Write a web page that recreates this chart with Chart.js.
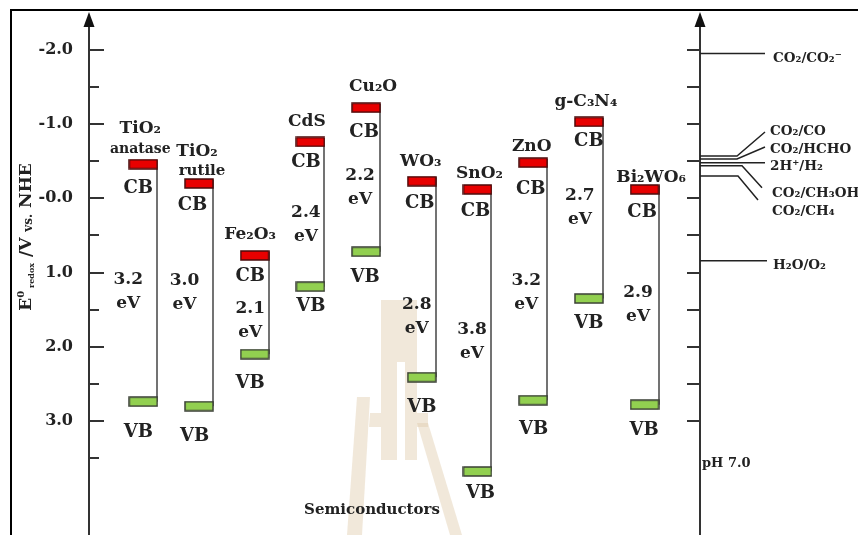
<!DOCTYPE html>
<html>
<head>
<meta charset="utf-8">
<script src="https://cdn.jsdelivr.net/npm/chart.js@4/dist/chart.umd.min.js"></script>
<style>
  html, body { margin: 0; padding: 0; background: #fff; }
  #wrap { width: 858px; height: 535px; position: relative; }
</style>
</head>
<body>
<div id="wrap"><canvas id="chart" width="858" height="535"></canvas></div>
<script>
// ---- data: band edges (V vs. NHE) of each photocatalyst ----
const semiconductors = ['TiO₂ anatase', 'TiO₂ rutile', 'Fe₂O₃', 'CdS', 'Cu₂O', 'WO₃', 'SnO₂', 'ZnO', 'g-C₃N₄', 'Bi₂WO₆'];
const nameLines = [['TiO₂', 'anatase'], ['TiO₂', 'rutile'], ['Fe₂O₃'], ['CdS'], ['Cu₂O'], ['WO₃'], ['SnO₂'], ['ZnO'], ['g-C₃N₄'], ['Bi₂WO₆']];
const cbEdge = [-0.46, -0.2, 0.77, -0.76, -1.22, -0.23, -0.12, -0.48, -1.03, -0.12];
const vbEdge = [2.74, 2.8, 2.1, 1.19, 0.72, 2.41, 3.68, 2.72, 1.35, 2.78];
const gapLabels = ['3.2', '3.0', '2.1', '2.4', '2.2', '2.8', '3.8', '3.2', '2.7', '2.9'];

// ---- data: redox couples at pH 7 ----
const redoxCouples = ['CO₂/CO₂⁻', 'CO₂/CO', 'CO₂/HCHO', '2H⁺/H₂', 'CO₂/CH₃OH', 'CO₂/CH₄', 'H₂O/O₂'];
const redoxPotentials = [-1.95, -0.57, -0.53, -0.48, -0.44, -0.30, 0.84];

// ---- axis ticks ----
const majorTicks = [-2, -1, 0, 1, 2, 3];
const tickLabels = ['-2.0', '-1.0', '-0.0', '1.0', '2.0', '3.0'];
const minorTicks = [-1.5, -0.5, 0.5, 1.5, 2.5, 3.5];
const rightTicks = [-2, -1.5, -1, -0.5, 0, 0.5, 1, 1.5, 2, 2.5, 3];

// ---- text placement around each band pair (pixel nudges) ----
const labelLayout = {
  nameDx: [[-3, -3], [-2, 3], [-4.5], [-3.5], [7], [-1], [2], [-1.5], [-3], [6.5]],
  nameDy: [[-37.5, -16.5], [-34, -14], [-22.5], [-22], [-22.5], [-21.5], [-17.5], [-17.5], [-22], [-14]],
  nameSize: [[17, 14], [17, 15], [17], [17], [17], [17], [17], [17], [17], [17]],
  cbDx: [-5, -6.5, -4.5, -4.5, -2, -2, -2, -2.5, 0, -2.5],
  cbDy: [22.5, 20, 19.5, 19, 22.5, 20.5, 20.5, 24.5, 18, 21],
  vbDx: [-5, -4.5, -4.5, 0.5, -1, 0, 3, 0.5, 0, -0.5],
  vbDy: [28.5, 28.5, 27, 17.5, 24, 28, 20.5, 27, 23.5, 24],
  gapDx: [-15, -14.5, -4.5, -4.5, -6, -5, -5.5, -7, -9, -6.5],
  gapAt: [0.48, 0.43, 0.52, 0.48, 0.46, 0.62, 0.49, 0.49, 0.41, 0.47]
};
const redoxLayout = [
  { bend: 65, end: 65, endDy: 0,   lx: 73, ly: 4 },
  { bend: 37, end: 65, endDy: -24, lx: 70, ly: -26 },
  { bend: 37, end: 65, endDy: -12, lx: 70, ly: -11 },
  { bend: 65, end: 65, endDy: 0,   lx: 70, ly: 2 },
  { bend: 42, end: 62, endDy: 22,  lx: 72, ly: 27 },
  { bend: 38, end: 58, endDy: 24,  lx: 72, ly: 34 },
  { bend: 67, end: 67, endDy: 0,   lx: 73, ly: 3 }
];

const SERIF = '"DejaVu Serif", "Liberation Serif", serif';
const INK = '#222';
const yRange = { min: -2.3346, max: 4.536 };

// band marker swatches
function bandSwatch(fill, stroke) {
  const c = document.createElement('canvas');
  c.width = 30; c.height = 11;
  const g = c.getContext('2d');
  g.fillStyle = fill;
  g.fillRect(1, 1, 28, 9);
  g.strokeStyle = stroke;
  g.lineWidth = 1.5;
  g.strokeRect(1, 1, 28, 9);
  return c;
}
const cbSwatch = bandSwatch('#e80000', '#4a0a0a');
const vbSwatch = bandSwatch('#92d050', '#3a3f35');

function text(ctx, str, x, cy, size, align) {
  ctx.font = 'bold ' + size + 'px ' + SERIF;
  ctx.textAlign = align || 'center';
  ctx.textBaseline = 'alphabetic';
  ctx.fillStyle = INK;
  ctx.fillText(str, x, cy + size * 0.36);
}

const diagramPlugin = {
  id: 'bandDiagram',
  beforeDraw(chart) {
    const ctx = chart.ctx;
    ctx.save();
    ctx.fillStyle = '#fff';
    ctx.fillRect(0, 0, chart.width, chart.height);
    // faint emblem behind the lower middle
    ctx.fillStyle = 'rgba(225,205,172,0.45)';
    const polys = [
      [[381, 300], [417, 300], [417, 460], [405, 460], [405, 362], [397, 362], [397, 460], [381, 460]],
      [[357, 397], [370, 397], [362, 535], [347, 535]],
      [[370, 413], [381, 413], [381, 427], [369, 427]],
      [[417, 413], [428, 413], [428, 427], [417, 427]],
      [[417, 423], [428, 423], [462, 535], [450, 535]]
    ];
    polys.forEach(p => {
      ctx.beginPath();
      p.forEach((pt, k) => k ? ctx.lineTo(pt[0], pt[1]) : ctx.moveTo(pt[0], pt[1]));
      ctx.closePath();
      ctx.fill();
    });
    // outer frame
    ctx.strokeStyle = '#000';
    ctx.lineWidth = 2;
    ctx.strokeRect(11, 10, 900, 600);
    ctx.restore();
  },
  beforeDatasetsDraw(chart) {
    // vertical connector from CB to VB along the right edge of each marker
    const ctx = chart.ctx, xs = chart.scales.x, ys = chart.scales.y;
    ctx.save();
    ctx.strokeStyle = '#444';
    ctx.lineWidth = 1.5;
    semiconductors.forEach((_, i) => {
      const x = Math.round(xs.getPixelForValue(i)) + 14;
      ctx.beginPath();
      ctx.moveTo(x, ys.getPixelForValue(cbEdge[i]) - 4);
      ctx.lineTo(x, ys.getPixelForValue(vbEdge[i]));
      ctx.stroke();
    });
    ctx.restore();
  },
  afterDraw(chart) {
    const ctx = chart.ctx, xs = chart.scales.x, ys = chart.scales.y;
    const area = chart.chartArea;
    const L = area.left, R = area.right;
    ctx.save();

    // arrow heads
    ctx.fillStyle = '#111';
    [L, R].forEach(ax => {
      ctx.beginPath();
      ctx.moveTo(ax, 12);
      ctx.lineTo(ax + 5.5, 27);
      ctx.lineTo(ax - 5.5, 27);
      ctx.closePath();
      ctx.fill();
    });

    // inward tick marks
    ctx.strokeStyle = '#333';
    ctx.lineWidth = 2;
    majorTicks.forEach(v => {
      const y = Math.round(ys.getPixelForValue(v));
      ctx.beginPath(); ctx.moveTo(L, y); ctx.lineTo(L + 15, y); ctx.stroke();
    });
    minorTicks.forEach(v => {
      const y = Math.round(ys.getPixelForValue(v));
      ctx.beginPath(); ctx.moveTo(L, y); ctx.lineTo(L + 10, y); ctx.stroke();
    });
    rightTicks.forEach(v => {
      const y = Math.round(ys.getPixelForValue(v));
      ctx.beginPath(); ctx.moveTo(R - 13, y); ctx.lineTo(R, y); ctx.stroke();
    });

    // redox levels
    ctx.strokeStyle = '#222';
    ctx.lineWidth = 1.5;
    redoxCouples.forEach((name, k) => {
      const y = ys.getPixelForValue(redoxPotentials[k]);
      const lay = redoxLayout[k];
      ctx.beginPath();
      ctx.moveTo(R, y);
      ctx.lineTo(R + lay.bend, y);
      ctx.lineTo(R + lay.end, y + lay.endDy);
      ctx.stroke();
      text(ctx, name, R + lay.lx, y + lay.ly, 13.5, 'left');
    });
    text(ctx, 'pH 7.0', R + 2, 462, 13, 'left');

    // semiconductor annotations
    semiconductors.forEach((_, i) => {
      const cx = xs.getPixelForValue(i);
      const cb = ys.getPixelForValue(cbEdge[i]);
      const vb = ys.getPixelForValue(vbEdge[i]);
      nameLines[i].forEach((ln, j) => {
        text(ctx, ln, cx + labelLayout.nameDx[i][j], cb + labelLayout.nameDy[i][j], labelLayout.nameSize[i][j]);
      });
      text(ctx, 'CB', cx + labelLayout.cbDx[i], cb + labelLayout.cbDy[i], 18);
      text(ctx, 'VB', cx + labelLayout.vbDx[i], vb + labelLayout.vbDy[i], 18);
      const gy = cb + labelLayout.gapAt[i] * (vb - cb);
      text(ctx, gapLabels[i], cx + labelLayout.gapDx[i], gy, 17);
      text(ctx, 'eV', cx + labelLayout.gapDx[i], gy + 24, 17);
    });

    text(ctx, 'Semiconductors', 372, 509, 15);

    // vertical axis title: E⁰ redox / V vs. NHE
    ctx.translate(25, 237);
    ctx.rotate(-Math.PI / 2);
    const parts = [
      { t: 'E', s: 17, dy: 0 },
      { t: '0', s: 10, dy: -7 },
      { t: ' redox', s: 8, dy: 3 },
      { t: ' /V ', s: 17, dy: 0 },
      { t: 'vs.', s: 12, dy: 1 },
      { t: ' NHE', s: 17, dy: 0 }
    ];
    let total = 0;
    parts.forEach(p => { ctx.font = 'bold ' + p.s + 'px ' + SERIF; p.w = ctx.measureText(p.t).width; total += p.w; });
    let px = -total / 2;
    ctx.textAlign = 'left';
    ctx.textBaseline = 'alphabetic';
    ctx.fillStyle = INK;
    parts.forEach(p => {
      ctx.font = 'bold ' + p.s + 'px ' + SERIF;
      ctx.fillText(p.t, px, 6 + p.dy);
      px += p.w;
    });
    ctx.restore();
  }
};

// keep the axes flush with the plot edges (no label overhang padding)
function fixAxisSize(width) {
  return s => {
    if (width !== null) s.width = width; else s.height = 0;
    s.paddingTop = 0; s.paddingBottom = 0; s.paddingLeft = 0; s.paddingRight = 0;
  };
}

new Chart(document.getElementById('chart').getContext('2d'), {
  type: 'scatter',
  data: {
    datasets: [
      {
        label: 'CB',
        data: cbEdge.map((v, i) => ({ x: i, y: v })),
        pointStyle: cbSwatch,
        pointRadius: 5,
        yAxisID: 'y'
      },
      {
        label: 'VB',
        data: vbEdge.map((v, i) => ({ x: i, y: v })),
        pointStyle: vbSwatch,
        pointRadius: 5,
        yAxisID: 'y'
      }
    ]
  },
  options: {
    responsive: false,
    animation: false,
    events: [],
    layout: { autoPadding: false, padding: { top: 25, left: 0, right: 0, bottom: 0 } },
    plugins: { legend: { display: false }, tooltip: { enabled: false } },
    scales: {
      x: {
        type: 'linear', min: -0.975, max: 9.995, display: false,
        ticks: { display: false },
        afterFit: fixAxisSize(null)
      },
      y: {
        type: 'linear',
        position: 'left',
        reverse: true,
        min: yRange.min,
        max: yRange.max,
        afterFit: fixAxisSize(89),
        // scale ends carry no label, so only the numbered ticks show text
        afterBuildTicks(s) { s.ticks = [yRange.min, ...majorTicks, yRange.max].map(v => ({ value: v })); },
        ticks: {
          callback: v => { const k = majorTicks.indexOf(v); return k < 0 ? null : tickLabels[k]; },
          font: { family: SERIF, weight: 'bold', size: 16 },
          color: INK,
          padding: 16,
          autoSkip: false
        },
        grid: { display: false, drawTicks: false },
        border: { display: true, color: '#333', width: 2 }
      },
      y2: {
        type: 'linear',
        position: 'right',
        reverse: true,
        min: yRange.min,
        max: yRange.max,
        afterFit: fixAxisSize(158),
        ticks: { display: false },
        grid: { display: false, drawTicks: false },
        border: { display: true, color: '#333', width: 2 }
      }
    }
  },
  plugins: [diagramPlugin]
});
</script>
</body>
</html>
